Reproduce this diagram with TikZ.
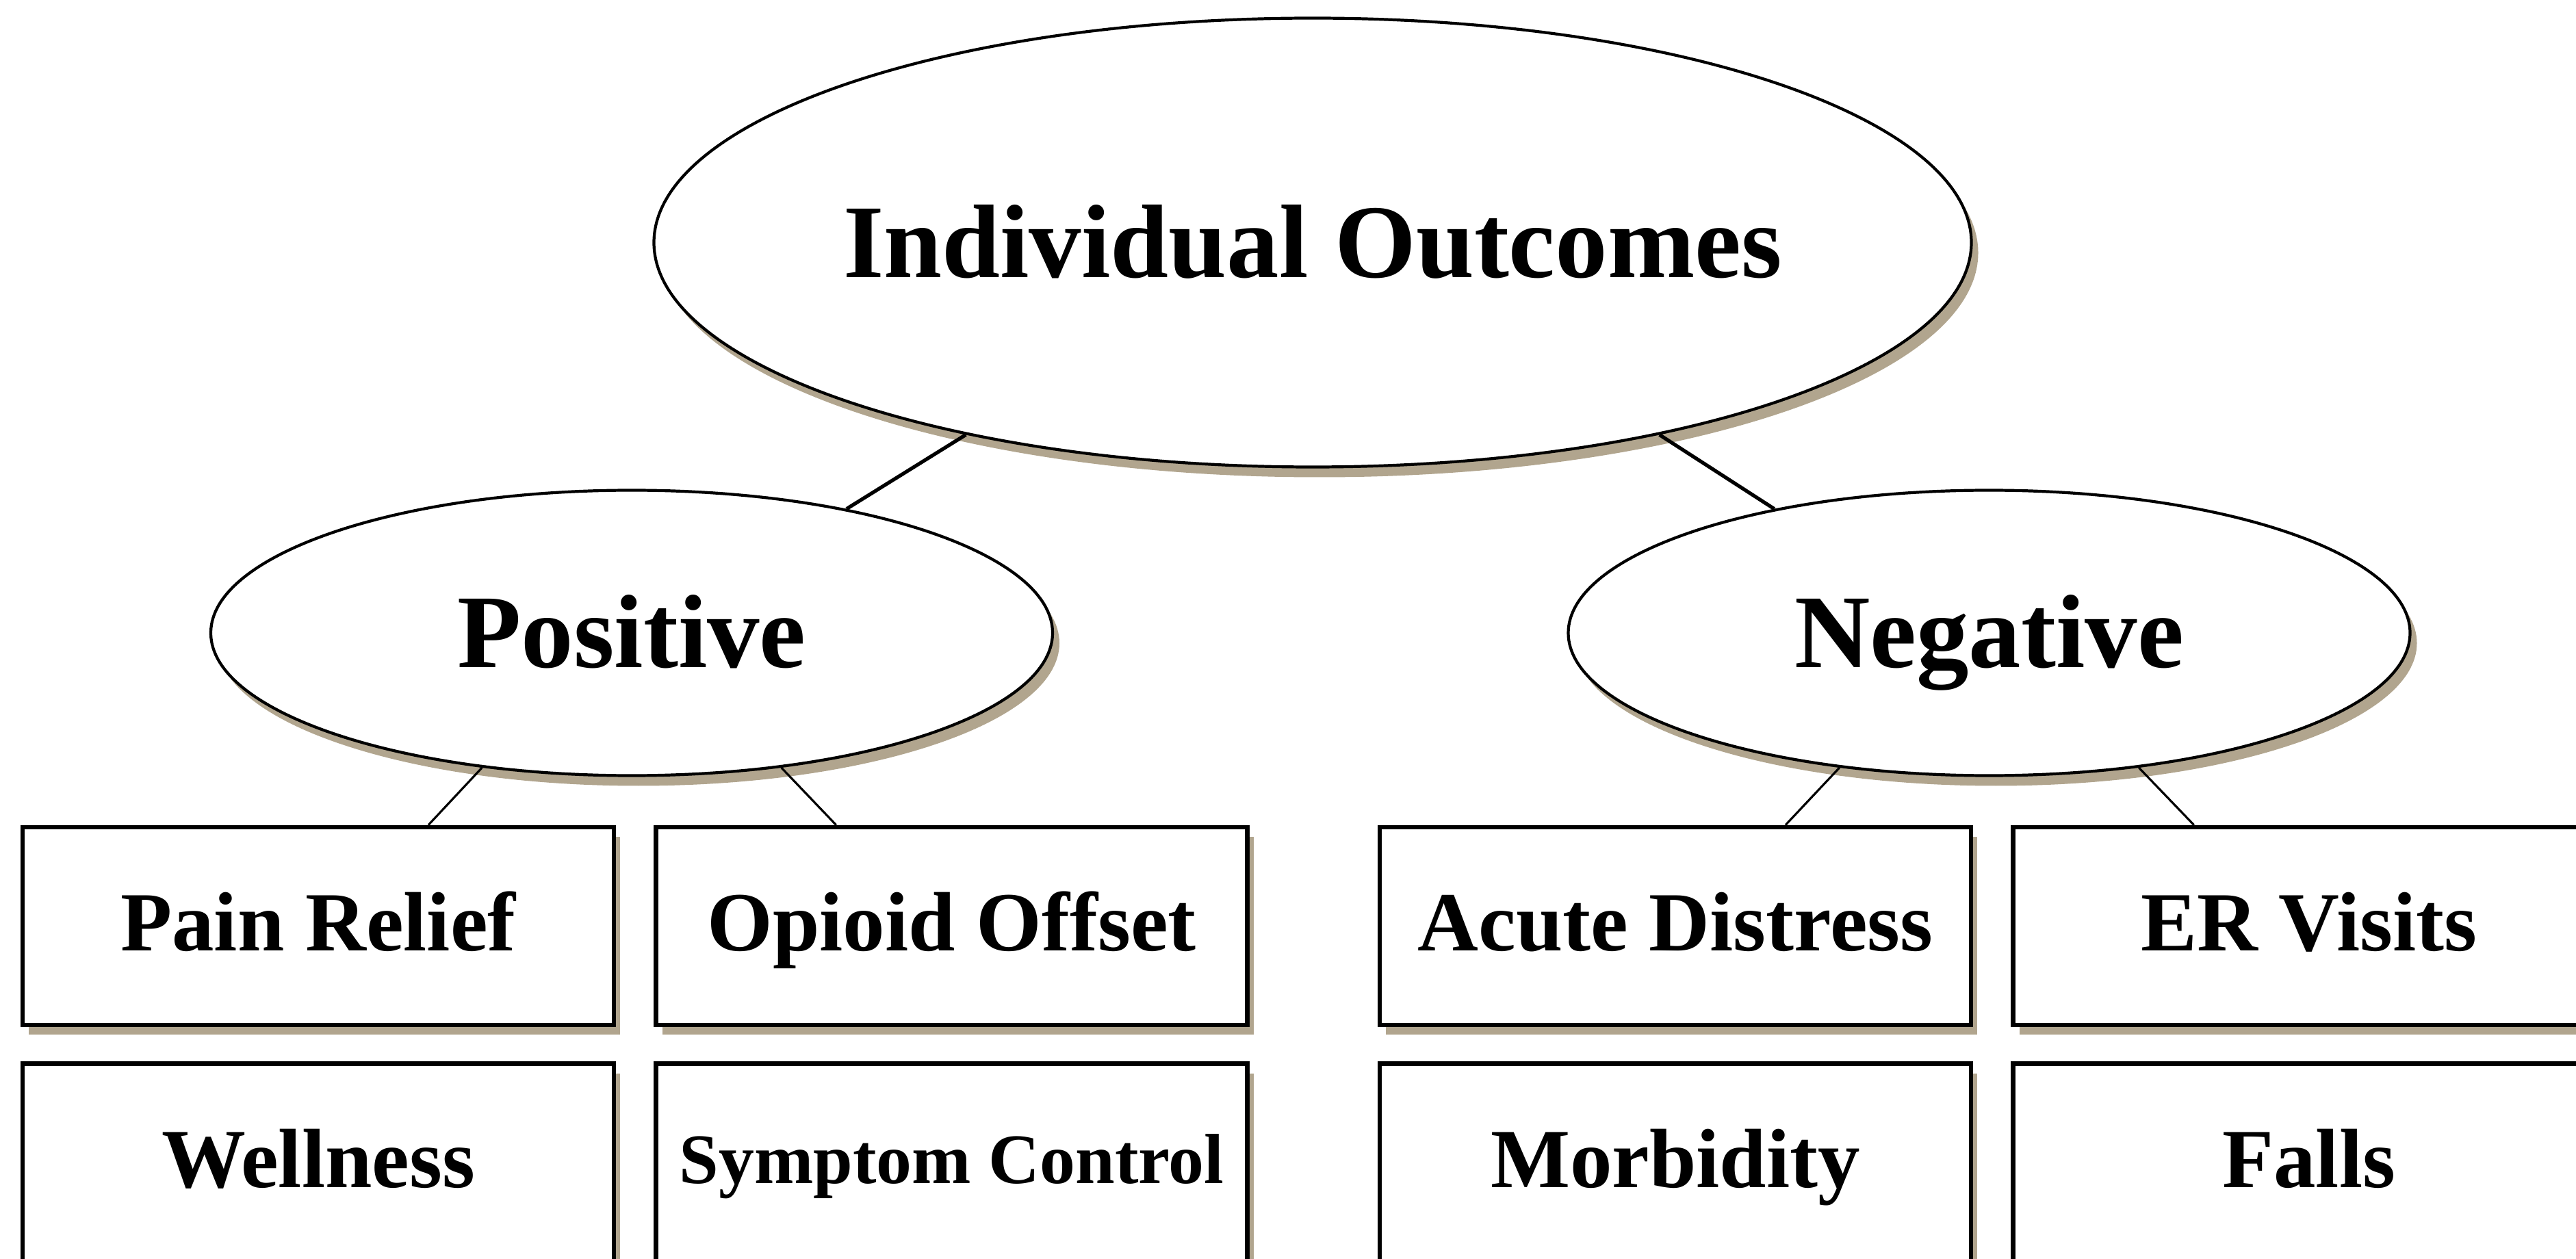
\documentclass[tikz,border=0pt]{standalone}
\usepackage{fontspec}
\setmainfont{Liberation Serif}
\usetikzlibrary{positioning,shapes.geometric,shadows}
\definecolor{ocShadow}{RGB}{177,165,142}

\begin{document}
\begin{tikzpicture}[
    oval/.style={ellipse, draw=black, line width=1.2pt, fill=white,
      drop shadow={shadow xshift=0.1cm, shadow yshift=-0.15cm, fill=ocShadow, opacity=1}},
    ovaltext/.style={font=\fontsize{43.5}{50}\selectfont\bfseries, inner sep=0pt,
      text height=28.8pt, text depth=0pt},
    leaf/.style={rectangle, draw=black, line width=1.9pt, fill=white,
      minimum width=8.64cm, minimum height=2.89cm, inner sep=0pt,
      font=\fontsize{35}{40}\selectfont\bfseries, text height=23.2pt, text depth=2.8pt,
      drop shadow={shadow xshift=0.09cm, shadow yshift=-0.14cm, fill=ocShadow, opacity=1}},
    link/.style={black, line width=1.5pt},
    twig/.style={black, line width=0.9pt}
  ]
  \useasboundingbox (0,0) rectangle (37.64,-18.40);
  \clip (0,0) rectangle (37.64,-18.40);

  % Top level
  \node[oval, minimum width=19.25cm, minimum height=6.56cm] (outcomes) at (19.18,-3.545) {};
  \node[ovaltext] (outcomes-t) at (outcomes) {Individual Outcomes};

  % Positive branch
  \node[oval, minimum width=12.30cm, minimum height=4.17cm] (pos) at (9.23,-9.25) {};
  \node[ovaltext] (pos-t) at (pos) {Positive};
  \node[leaf] (pain) at (4.65,-13.535) {Pain Relief};
  \node[leaf, right=0.55cm of pain] (opioid) {Opioid Offset};
  \node[leaf, below=0.50cm of pain] (wellness) {Wellness};
  \node[leaf, below=0.50cm of opioid, font=\fontsize{29.5}{34}\selectfont\bfseries,
    text height=19.5pt, text depth=2.2pt] (symptom) {Symptom Control};

  % Negative branch
  \node[oval, minimum width=12.30cm, minimum height=4.17cm] (neg) at (29.065,-9.25) {};
  \node[ovaltext] (neg-t) at (neg) {Negative};
  \node[leaf] (acute) at (24.48,-13.535) {Acute Distress};
  \node[leaf, right=0.55cm of acute] (er) {ER Visits};
  \node[leaf, below=0.50cm of acute] (morbidity) {Morbidity};
  \node[leaf, below=0.50cm of er] (falls) {Falls};

  % Connectors
  \draw[link] (outcomes.209.5) -- (pos.30);
  \draw[link] (outcomes.-29.5) -- (neg.150);
  \draw[twig] (pos.222) -- ([xshift=1.61cm]pain.north);
  \draw[twig] (pos.-42) -- ([xshift=-1.69cm]opioid.north);
  \draw[twig] (neg.222) -- ([xshift=1.61cm]acute.north);
  \draw[twig] (neg.-42) -- ([xshift=-1.68cm]er.north);
\end{tikzpicture}
\end{document}
